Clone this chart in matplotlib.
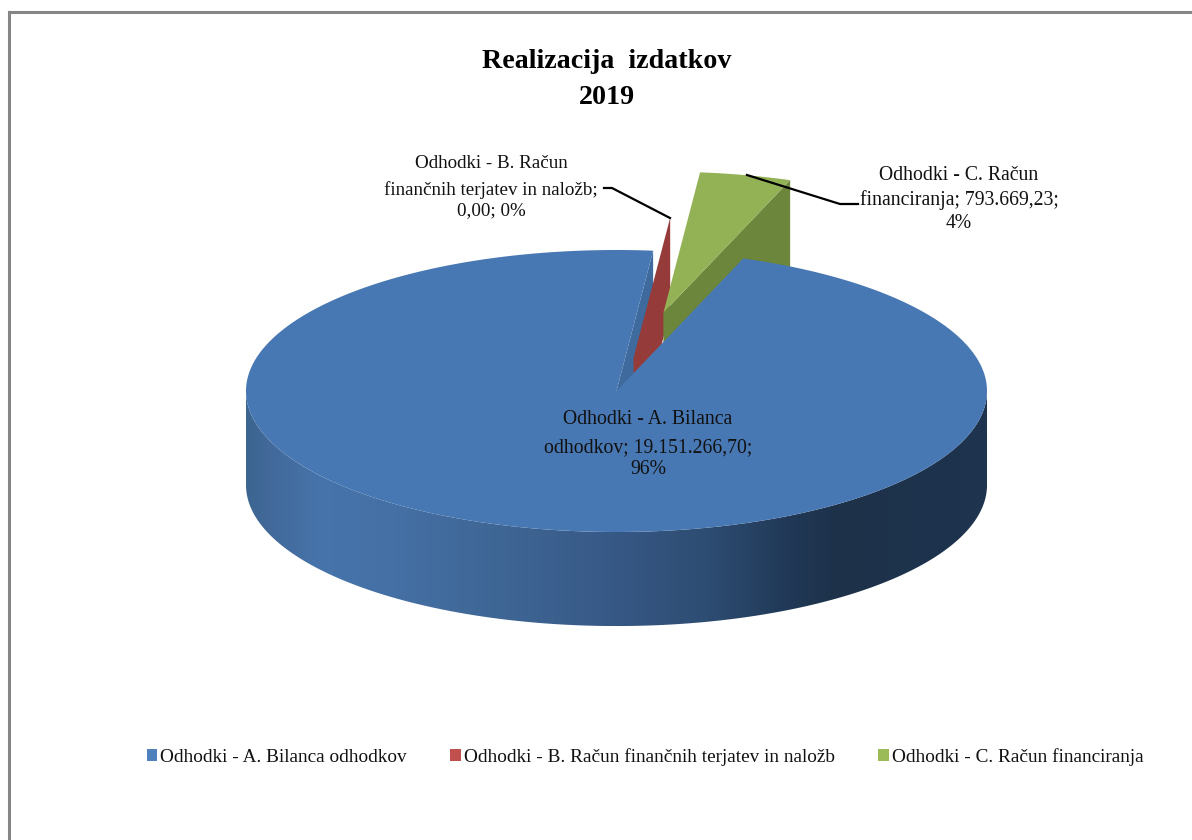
import numpy as np
import matplotlib
matplotlib.use("Agg")
import matplotlib.pyplot as plt
from matplotlib.patches import Polygon, Patch
from matplotlib.colors import LinearSegmentedColormap

# ---- data ----
categories = ["Odhodki - A. Bilanca odhodkov",
              "Odhodki - B. Račun finančnih terjatev in naložb",
              "Odhodki - C. Račun financiranja"]
values = [19151266.70, 0.00, 793669.23]
value_labels = ["19.151.266,70", "0,00", "793.669,23"]
percent_labels = ["96%", "0%", "4%"]
title_lines = ["Realizacija  izdatkov", "2019"]

# ---- style ----
W, H = 1192, 840
FONT = "Liberation Serif"
top_colors = ["#4878B3", "#953B39", "#93B155"]
side_colors = ["#3E6A9E", "#953B39", "#6C863C"]
legend_colors = ["#4F81BD", "#C0504D", "#9BBB59"]
rim_stops = [(0.0, "#3D6590"), (0.03, "#42699A"), (0.1, "#4674AB"), (0.2, "#4570A5"), (0.33, "#3F6796"),
             (0.48, "#385A88"), (0.62, "#2E4D73"), (0.72, "#223B5A"), (0.8, "#1D3149"), (1.0, "#1E344F")]
start_angle = 70.0
explode_c = 0.57
red_offset = (0.046, 0.234)
depth = 0.667

fig = plt.figure(figsize=(W / 100, H / 100), dpi=100, facecolor="white")
# full-figure axes whose data unit is one pie radius: pie spans x 246..987 px, y 250..532 px
L, R, T, B = 246, 987, 250, 532
cx, cy, rx, ry = (L + R) / 2, (T + B) / 2, (R - L) / 2, (B - T) / 2
ax = fig.add_axes([0, 0, 1, 1])
ax.set_xlim((0 - cx) / rx, (W - cx) / rx)
ax.set_ylim((cy - H) / ry, (cy - 0) / ry)
ax.axis("off")
lims = ax.get_xlim(), ax.get_ylim()

pix = fig.add_axes([0, 0, 1, 1], zorder=10)
pix.set_xlim(0, W)
pix.set_ylim(H, 0)
pix.axis("off")
pix.patch.set_alpha(0)

# frame of the chart area (top and left edges are visible)
pix.plot([8.5, 8.5, W], [H, 11.5, 11.5], color="#868686", lw=2.2, solid_joinstyle="miter")


def arc(a0, a1, n=300, off=(0, 0), dz=0.0):
    t = np.radians(np.linspace(a0, a1, n))
    return np.column_stack([np.cos(t) + off[0], np.sin(t) + off[1] - dz])


# slice angles, clockwise from the start angle
total = sum(values)
sweeps = [v / total * 360 for v in values]
a_blue_start = start_angle
a_blue_end = start_angle - sweeps[0]
a_gap_start = a_blue_end + 360          # where A ends and B / C begin
a_c_end = a_gap_start - sweeps[2]


def unit(a):
    return np.array([np.cos(np.radians(a)), np.sin(np.radians(a))])


# blue cut wall at the end of slice A
e = unit(a_gap_start)
ax.add_patch(Polygon([(0, 0), e, e - (0, depth), (0, -depth)], closed=True,
                     fc=side_colors[0], ec="none", zorder=1))

# zero-size slice B: only its wall shows
r0 = np.array(red_offset)
ax.add_patch(Polygon([r0, r0 + e, r0 + e - (0, depth), r0 - (0, depth)], closed=True,
                     fc=top_colors[1], ec="none", zorder=2))

# exploded slice C
mid = (a_gap_start + a_c_end) / 2
off = explode_c * unit(mid)
g1 = off + unit(a_c_end)
ax.add_patch(Polygon([off, g1, g1 - (0, depth), off - (0, depth)], closed=True,
                     fc=side_colors[2], ec="none", zorder=3))
green_top = np.vstack([[off], arc(a_c_end, a_gap_start, off=off)])
ax.add_patch(Polygon(green_top, closed=True, fc=top_colors[2], ec="none", zorder=4))

# rim of slice A with its shading
front = np.vstack([arc(180, 360), arc(360, 180, dz=depth)])
rim = Polygon(front, closed=True, fc="none", ec="none", transform=ax.transData)
ax.add_patch(rim)
cmap = LinearSegmentedColormap.from_list("rim", rim_stops)
img = ax.imshow(np.linspace(0, 1, 512)[None, :], cmap=cmap, aspect="auto",
                extent=(-1, 1, -1 - depth, 1), zorder=5, vmin=0, vmax=1)
img.set_clip_path(rim)
ax.set_xlim(*lims[0])
ax.set_ylim(*lims[1])

# top face of slice A
blue_top = np.vstack([[(0, 0)], arc(a_blue_end, a_blue_start, n=800)])
ax.add_patch(Polygon(blue_top, closed=True, fc=top_colors[0], ec="none", zorder=6))

# titles
pix.text(607, 61, title_lines[0], family=FONT, weight="bold", fontsize=20.2, ha="center", va="center", zorder=20)
pix.text(607, 97, title_lines[1], family=FONT, weight="bold", fontsize=20.2, ha="center", va="center", zorder=20)


def label(x, ys, lines, size=14.2):
    for y, s in zip(ys, lines):
        pix.text(x, y, s, family=FONT, fontsize=size, ha="center", va="center", color="#111111", zorder=30)


label(648, [419, 448, 470],
      ["Odhodki - A. Bilanca", "odhodkov; " + value_labels[0] + ";", percent_labels[0]])
label(491, [163, 190, 211],
      ["Odhodki - B. Račun", "finančnih terjatev in naložb;", value_labels[1] + "; " + percent_labels[1]], size=13.7)
label(959, [175, 200, 224],
      ["Odhodki - C. Račun", "financiranja; " + value_labels[2] + ";", percent_labels[2]])

# leader lines (drawn above the pie)
pix.plot([604, 612, 670], [188, 188, 218], color="black", lw=1.6)
pix.plot([747, 840, 858], [175, 204, 204], color="black", lw=1.6)

# legend
handles = [Patch(fc=c, ec="none") for c in legend_colors]
fig.legend(handles, categories, loc="center", bbox_to_anchor=(645 / W, 1 - 757 / H), ncol=3,
           frameon=False, prop={"family": FONT, "size": 13.9}, handlelength=0.54, handleheight=0.54,
           handletextpad=0.16, columnspacing=2.25, labelcolor="#111111")

fig.savefig("out.png", dpi=100, facecolor="white")
